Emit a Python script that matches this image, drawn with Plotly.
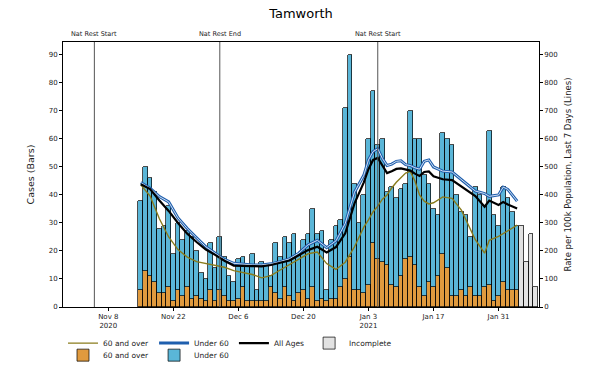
import pandas as pd
import plotly.graph_objects as go

area = "Tamworth"

# daily cases, complete days
days = pd.date_range("2020-11-15", "2021-02-04")
over_60 = [6, 13, 11, 9, 5, 5, 7, 2, 6, 4, 7, 3, 4, 3, 2, 6, 2, 6, 4, 2,
           2, 3, 7, 2, 2, 2, 2, 2, 7, 5, 3, 7, 4, 2, 5, 6, 3, 7, 2, 3,
           2, 3, 3, 7, 10, 18, 6, 6, 5, 8, 23, 17, 16, 15, 8, 7, 11, 17, 18, 15,
           7, 4, 9, 7, 11, 19, 14, 4, 4, 6, 4, 7, 4, 4, 7, 8, 2, 4, 9, 6,
           6, 6]
under_60 = [32, 37, 35, 32, 23, 24, 29, 17, 24, 20, 20, 22, 16, 9, 8, 17, 12, 19, 14, 9,
            7, 14, 11, 13, 17, 4, 14, 13, 4, 18, 15, 18, 19, 24, 14, 18, 23, 28, 24, 24,
            4, 21, 26, 24, 61, 72, 38, 24, 35, 52, 54, 41, 44, 26, 35, 32, 31, 27, 52, 45,
            53, 43, 35, 28, 22, 43, 46, 54, 36, 28, 29, 18, 39, 36, 29, 55, 31, 25, 34, 33,
            28, 23]

# last days, still incomplete
incomplete_days = pd.date_range("2021-02-05", "2021-02-08")
incomplete = [29, 16, 26, 7]

# 7 day rate per 100k (lines)
rate_dates = ["2020-11-15", "2020-11-17", "2020-11-19", "2020-11-21", "2020-11-23",
              "2020-11-25", "2020-11-27", "2020-11-29", "2020-12-01", "2020-12-03",
              "2020-12-05", "2020-12-07", "2020-12-09", "2020-12-11", "2020-12-13",
              "2020-12-15", "2020-12-17", "2020-12-19", "2020-12-21", "2020-12-23",
              "2020-12-25", "2020-12-27", "2020-12-29", "2020-12-31", "2021-01-02",
              "2021-01-03", "2021-01-04", "2021-01-05", "2021-01-06", "2021-01-07",
              "2021-01-08", "2021-01-09", "2021-01-10", "2021-01-11", "2021-01-12",
              "2021-01-13", "2021-01-14", "2021-01-15", "2021-01-16", "2021-01-17",
              "2021-01-19", "2021-01-21", "2021-01-23", "2021-01-25", "2021-01-26",
              "2021-01-28", "2021-01-29", "2021-01-31", "2021-02-01", "2021-02-02",
              "2021-02-04"]
rate_all = [438, 421, 380, 343, 300, 262, 232, 205, 186, 165,
            148, 146, 146, 145, 150, 158, 166, 185, 203, 215,
            195, 214, 263, 370, 445, 492, 525, 532, 505, 478,
            485, 493, 495, 490, 487, 476, 468, 482, 484, 467,
            456, 453, 430, 410, 396, 358, 380, 364, 375, 366,
            352]
rate_under_60 = [444, 424, 394, 375, 318, 280, 247, 215, 192, 170,
                 156, 152, 150, 150, 154, 162, 172, 192, 222, 238,
                 212, 236, 298, 410, 470, 525, 555, 565, 530, 505,
                 510, 520, 522, 508, 505, 497, 492, 520, 525, 500,
                 485, 482, 456, 430, 414, 405, 395, 400, 428, 420,
                 378]
rate_over_60 = [436, 396, 315, 250, 205, 178, 162, 155, 150, 142,
                130, 124, 116, 104, 112, 132, 152, 172, 190, 196,
                155, 134, 160, 215, 285, 311, 340, 360, 385, 400,
                425, 445, 460, 478, 484, 450, 400, 378, 368, 372,
                393, 388, 346, 278, 240, 192, 238, 252, 262, 270,
                292]

events = ["2020-11-05", "2020-12-02", "2021-01-05"]
event_labels = ["Nat Rest Start", "Nat Rest End", "Nat Rest Start"]

tick_dates = ["2020-11-08", "2020-11-22", "2020-12-06", "2020-12-20",
              "2021-01-03", "2021-01-17", "2021-01-31"]
tick_text = ["Nov 8<br>2020", "Nov 22", "Dec 6", "Dec 20",
             "Jan 3<br>2021", "Jan 17", "Jan 31"]

ORANGE = "#e09a3e"
BLUE_BAR = "#5ab6d8"
OLIVE = "#8a7c1c"
BLUE_LINE = "#1f5fae"
DAY = 86400000

fig = go.Figure()

edge = dict(color="black", width=0.7)
fig.add_trace(go.Bar(x=days, y=over_60, name="60 and over", width=DAY,
                     marker=dict(color=ORANGE, line=edge), legend="legend2"))
fig.add_trace(go.Bar(x=days, y=under_60, name="Under 60", width=DAY,
                     marker=dict(color=BLUE_BAR, line=edge), legend="legend2"))
fig.add_trace(go.Bar(x=incomplete_days, y=incomplete, name="Incomplete", width=DAY,
                     marker=dict(color="#e2e2e2", line=edge), legendrank=4))

fig.add_trace(go.Scatter(x=rate_dates, y=rate_over_60, yaxis="y2", mode="lines",
                         name="60 and over", line=dict(color=OLIVE, width=1.4),
                         legendrank=1))
fig.add_trace(go.Scatter(x=rate_dates, y=rate_under_60, yaxis="y2", mode="lines",
                         name="Under 60", line=dict(color=BLUE_LINE, width=3),
                         legendrank=2))
# light core inside the blue line
fig.add_trace(go.Scatter(x=rate_dates, y=rate_under_60, yaxis="y2", mode="lines",
                         line=dict(color="#e6eef8", width=0.9), showlegend=False,
                         hoverinfo="skip"))
fig.add_trace(go.Scatter(x=rate_dates, y=rate_all, yaxis="y2", mode="lines",
                         name="All Ages", line=dict(color="black", width=2.2),
                         legendrank=3))

for d, lab in zip(events, event_labels):
    fig.add_shape(type="line", xref="x", yref="paper", x0=d, x1=d, y0=0, y1=1,
                  line=dict(color="#555555", width=1))
    fig.add_annotation(x=d, y=1, xref="x", yref="paper", yanchor="bottom", yshift=2,
                       text=lab, showarrow=False, font=dict(size=6.5, color="#222"))

axis_style = dict(showline=True, linecolor="black", linewidth=0.8, ticks="outside",
                  ticklen=3, tickcolor="black", showgrid=False, zeroline=False,
                  tickfont=dict(size=7, color="#222"))

fig.update_layout(
    width=592, height=365,
    margin=dict(l=63, r=53, t=42, b=58, autoexpand=False),
    barmode="stack", bargap=0,
    plot_bgcolor="white", paper_bgcolor="white",
    font=dict(family="DejaVu Sans", size=7.5, color="#222"),
    title=dict(text=area, x=0.5, xref="paper", y=0.962, yref="container",
               yanchor="middle", font=dict(size=13, color="black")),
    xaxis=dict(type="date", range=["2020-10-29 06:00", "2021-02-08 17:00"],
               tickvals=tick_dates, ticktext=tick_text, mirror=True, **axis_style),
    yaxis=dict(range=[0, 94.6], tick0=0, dtick=10, mirror=True,
               title=dict(text="Cases (Bars)", font=dict(size=9.5), standoff=12),
               **axis_style),
    yaxis2=dict(range=[0, 946], tick0=0, dtick=100, overlaying="y", side="right",
                title=dict(text="Rate per 100k Population, Last 7 Days (Lines)",
                           font=dict(size=8.5), standoff=8),
                **axis_style),
    legend=dict(orientation="h", x=0, xanchor="left", y=0.060, yref="container",
                yanchor="middle", traceorder="normal", font=dict(size=7.5),
                bgcolor="rgba(0,0,0,0)", itemwidth=30),
    legend2=dict(orientation="h", x=0, xanchor="left", y=0.027, yref="container",
                 yanchor="middle", traceorder="normal", font=dict(size=7.5),
                 bgcolor="rgba(0,0,0,0)", itemwidth=30),
)

# the page body has a default margin; drop it so the figure fills the window
fig.write_html("out.html", config={"displayModeBar": False},
               post_script="document.body.style.margin='0px';")
